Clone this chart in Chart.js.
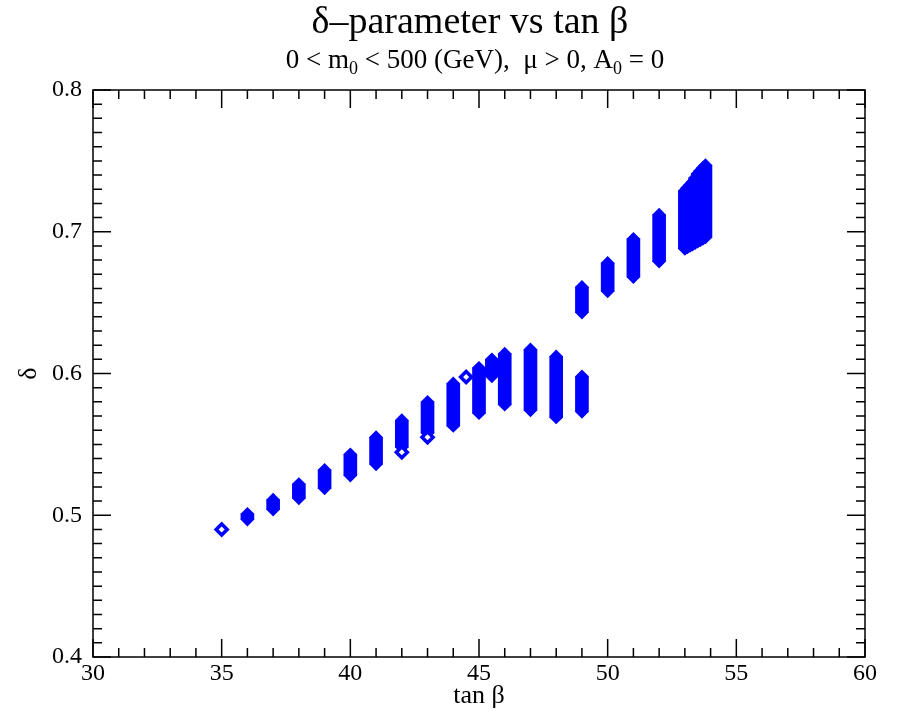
<!DOCTYPE html>
<html>
<head>
<meta charset="utf-8">
<script src="https://cdn.jsdelivr.net/npm/chart.js@4.4.0/dist/chart.umd.min.js"></script>
<style>
  html, body { margin: 0; padding: 0; background: #fff; }
  #wrap { width: 897px; height: 712px; }
</style>
</head>
<body>
<div id="wrap"><canvas id="delta-chart" width="897" height="712"></canvas></div>
<script>
(function () {
  "use strict";

  const SERIF = "'Liberation Serif', 'DejaVu Serif', serif";
  const BLUE  = "#0000ff";

  // ── Veri: her tan β sütunu için δ aralığı (alt / üst) ───────────────────
  const colTanBeta = [36, 37, 38, 39, 40, 41, 42, 43, 44, 45, 45.5, 46, 47, 48, 49, 49, 50, 51, 52,
                      53.0, 53.1, 53.2, 53.3, 53.4, 53.5, 53.6, 53.7, 53.8];
  const colDeltaLo = [0.497, 0.504, 0.512, 0.519, 0.528, 0.536, 0.548, 0.558, 0.563, 0.572, 0.598, 0.578, 0.574, 0.569, 0.573, 0.643, 0.658, 0.668, 0.679,
                      0.688, 0.689, 0.690, 0.691, 0.692, 0.693, 0.694, 0.695, 0.696];
  const colDeltaHi = [0.501, 0.511, 0.522, 0.532, 0.543, 0.555, 0.567, 0.580, 0.593, 0.604, 0.610, 0.614, 0.617, 0.612, 0.598, 0.661, 0.678, 0.695, 0.712,
                      0.729, 0.731, 0.733, 0.735, 0.738, 0.741, 0.743, 0.745, 0.747];

  // tek başına duran (içi boş) noktalar
  const oneTanBeta = [35, 44.5, 42, 43];
  const oneDelta   = [0.490, 0.5975, 0.5445, 0.555];

  const xTicks = [30, 35, 40, 45, 50, 55, 60];
  const yTicks = [0.4, 0.5, 0.6, 0.7, 0.8];

  const barData = colTanBeta.map((x, i) => ({ x, y: [colDeltaLo[i], colDeltaHi[i]] }));
  const endData = colTanBeta.flatMap((x, i) => [{ x, y: colDeltaLo[i] }, { x, y: colDeltaHi[i] }]);
  const oneData = oneTanBeta.map((x, i) => ({ x, y: oneDelta[i] }));

  // ── Çerçeve, içe dönük tikler ve başlıklar ───────────────────────────────
  const framePlugin = {
    id: "frame",
    afterDraw(chart) {
      const { ctx, chartArea: a, scales: { x, y } } = chart;
      ctx.save();
      ctx.strokeStyle = "#000";
      ctx.lineWidth = 1.5;
      ctx.strokeRect(a.left, a.top, a.right - a.left, a.bottom - a.top);

      ctx.beginPath();
      for (let v = 30; v <= 60; v++) {
        const px = x.getPixelForValue(v);
        const len = v % 5 === 0 ? 18 : 9;
        ctx.moveTo(px, a.bottom); ctx.lineTo(px, a.bottom - len);
        ctx.moveTo(px, a.top);    ctx.lineTo(px, a.top + len);
      }
      for (let i = 40; i <= 80; i++) {
        const py = y.getPixelForValue(i / 100);
        const len = i % 10 === 0 ? 18 : 9;
        ctx.moveTo(a.left, py);  ctx.lineTo(a.left + len, py);
        ctx.moveTo(a.right, py); ctx.lineTo(a.right - len, py);
      }
      ctx.stroke();

      // başlık
      ctx.fillStyle = "#000";
      ctx.textBaseline = "alphabetic";
      ctx.textAlign = "center";
      ctx.font = "38px " + SERIF;
      ctx.fillText("δ–parameter vs tan β", 470, 33);

      // alt başlık (alt indisli parçalar)
      const parts = [
        ["0 < m", false], ["0", true], [" < 500 (GeV),  μ > 0, A", false], ["0", true], [" = 0", false],
      ];
      const big = "27px " + SERIF, small = "18px " + SERIF;
      let total = 0;
      parts.forEach(([t, sub]) => { ctx.font = sub ? small : big; total += ctx.measureText(t).width; });
      let cx = 475 - total / 2;
      ctx.textAlign = "left";
      parts.forEach(([t, sub]) => {
        ctx.font = sub ? small : big;
        ctx.fillText(t, cx, sub ? 74 : 68);
        cx += ctx.measureText(t).width;
      });
      ctx.restore();
    },
  };

  new Chart(document.getElementById("delta-chart"), {
    type: "scatter",
    data: {
      datasets: [
        {
          label: "tek",
          data: oneData,
          pointStyle: "rectRot",
          pointRadius: 5.5,
          borderWidth: 3.5,
          borderColor: BLUE,
          backgroundColor: "#fff",
          order: 0,
        },
        {
          label: "uç",
          data: endData,
          pointStyle: "rectRot",
          pointRadius: 5.5,
          borderWidth: 2,
          borderColor: BLUE,
          backgroundColor: BLUE,
          order: 1,
        },
        {
          type: "bar",
          label: "sütun",
          data: barData,
          barThickness: 13,
          borderWidth: 0,
          backgroundColor: BLUE,
          order: 2,
        },
      ],
    },
    options: {
      responsive: false,
      animation: false,
      events: [],
      layout: { padding: { top: 90, right: 32, bottom: 0, left: 0 } },
      plugins: { legend: { display: false }, tooltip: { enabled: false } },
      scales: {
        x: {
          type: "linear", min: 30, max: 60, offset: false,
          grid: { display: false, drawTicks: false },
          border: { display: false },
          afterBuildTicks: s => { s.ticks = xTicks.map(v => ({ value: v })); },
          ticks: { font: { family: SERIF, size: 24 }, color: "#000", padding: 2, maxRotation: 0 },
          title: { display: true, text: "tan β", font: { family: SERIF, size: 26 }, color: "#000", padding: { top: 0, bottom: 0 } },
          afterFit: s => { s.height = 55; },
        },
        y: {
          type: "linear", min: 0.4, max: 0.8,
          grid: { display: false, drawTicks: false },
          border: { display: false },
          afterBuildTicks: s => { s.ticks = yTicks.map(v => ({ value: v })); },
          ticks: { font: { family: SERIF, size: 24 }, color: "#000", padding: 11, callback: v => v.toFixed(1) },
          title: { display: true, text: "δ", font: { family: SERIF, size: 26 }, color: "#000", padding: { top: 14, bottom: 0 } },
          afterFit: s => { s.width = 93; },
        },
      },
    },
    plugins: [framePlugin],
  });
})();
</script>
</body>
</html>
